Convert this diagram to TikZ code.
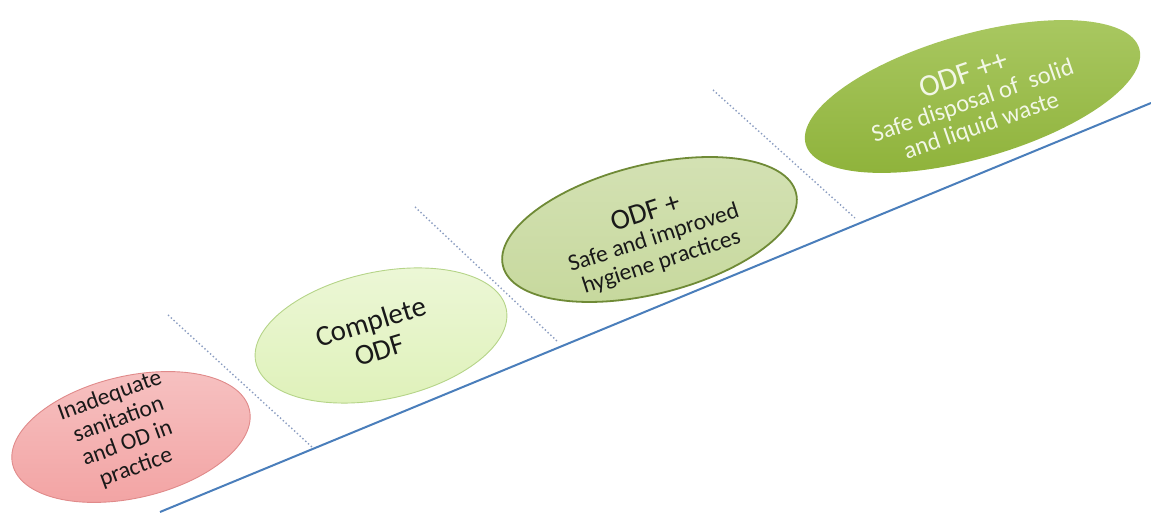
\documentclass[tikz,border=0pt]{standalone}
\usepackage{fontspec}
\setmainfont{Carlito}
\usetikzlibrary{shapes.geometric}
\definecolor{axisblue}{HTML}{4A7EBB}
\definecolor{dotgrey}{HTML}{8A9CC0}
\definecolor{odfred}{HTML}{F2A2A2}
\definecolor{odfredline}{HTML}{E08A8A}
\definecolor{odflight}{HTML}{DEF1B8}
\definecolor{odflightline}{HTML}{B5D488}
\definecolor{odfplus}{HTML}{C6D89C}
\definecolor{odfplusline}{HTML}{6F8A36}
\definecolor{odfpp}{HTML}{95BB3C}
\definecolor{odfpptext}{HTML}{F2F7E6}

\begin{document}
\begin{tikzpicture}[x=1pt,y=1pt,
    stage/.style={ellipse,inner sep=0pt,outer sep=0pt},
    stagetext/.style={align=center,inner sep=0pt,text=black!90},
    divider/.style={draw=dotgrey,line width=1.4pt,dash pattern=on 1.4pt off 2.4pt}]
  \useasboundingbox (0,0) rectangle (1151,513);
  \draw[divider] (168,198) -- (312,66);
  \draw[divider] (415,306) -- (558,171);
  \draw[divider] (713,423) -- (855,295);
  \coordinate (a0) at (160,1);
  \coordinate (a1) at (1151,410);
  \draw[axisblue,line width=2pt] (a0) -- (a1);
  \node[stage,draw=odfredline,line width=0.9pt,top color=odfred!65!white,bottom color=odfred,
    rotate=13,minimum width=243pt,minimum height=122pt] (s1) at (131,76) {};
  \node[stagetext,rotate=20,font=\fontsize{23.5}{25.5}\selectfont] (t1) at ([xshift=-8pt,yshift=5pt]s1.center)
    {Inadequate\\sanitation\\and OD in\\practice};
  \node[stage,draw=odflightline,line width=0.9pt,top color=odflight!55!white,bottom color=odflight,
    rotate=12,minimum width=256pt,minimum height=127pt] (s2) at (381,177.5) {};
  \node[stagetext,rotate=17,font=\fontsize{29}{30}\selectfont] (t2) at ([xshift=-6pt]s2.center)
    {Complete\\ODF};
  \node[stage,draw=odfplusline,line width=1.8pt,top color=odfplus!75!white,bottom color=odfplus,
    rotate=14,minimum width=302pt,minimum height=129pt] (s3) at (649.5,283.5) {};
  \node[stagetext,rotate=18,font=\fontsize{23.5}{25}\selectfont] (t3) at ([xshift=4pt,yshift=-8pt]s3.center)
    {{\fontsize{29}{29}\selectfont ODF +}\\Safe and improved\\hygiene practices};
  \node[stage,top color=odfpp!80!white,bottom color=odfpp!95!black,
    rotate=16,minimum width=347pt,minimum height=124pt] (s4) at (972.5,416.5) {};
  \node[stagetext,text=odfpptext,rotate=19,font=\fontsize{24.5}{26}\selectfont] (t4) at ([yshift=-4pt]s4.center)
    {{\fontsize{31}{31}\selectfont ODF ++}\\Safe disposal of~ solid\\and liquid waste};
\end{tikzpicture}
\end{document}
